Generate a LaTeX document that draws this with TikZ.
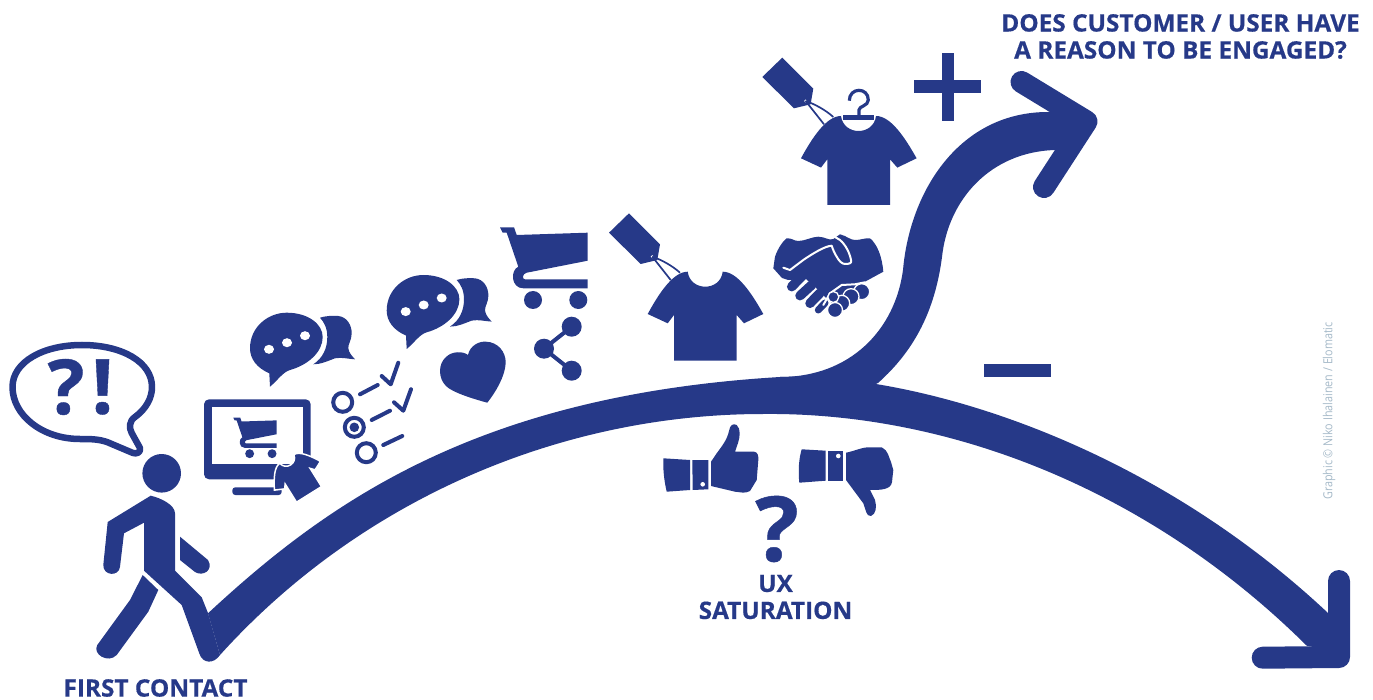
\documentclass[tikz,border=0pt]{standalone}
\usepackage{fontspec}
\newfontfamily\labelfont[FakeStretch=1.015, BoldFeatures={FakeBold=0.5}]{Open Sans}
\newfontfamily\creditfont[FakeStretch=0.86]{Open Sans}
\definecolor{uxblue}{RGB}{38,57,136}
\definecolor{creditgray}{RGB}{165,185,200}
\tikzset{
  uxlabel/.style={text=uxblue, inner sep=0pt, align=center,
                  font=\labelfont\bfseries\fontsize{24}{27}\selectfont},
  bigmark/.style={text=uxblue, inner sep=0pt,
                  font=\labelfont\bfseries\fontsize{76}{76}\selectfont},
  solid part/.style={fill=uxblue, draw=none},
  thin line/.style={draw=uxblue, line width=4pt, line cap=round, line join=round},
  cut line/.style={draw=white, line width=2pt, line cap=round, line join=round},
  finger/.style={draw=uxblue, line cap=round},
  cart/.pic={
    \fill[solid part] (0,0) -- (14,0) -- (16.7,7.7) -- (87.7,5.4) -- (87.7,33.4) -- (26.7,45.4)
      .. controls (22,46.5) and (22,52) .. (25,52) -- (87.7,52) -- (87.7,61) -- (23.3,61)
      .. controls (11,61) and (10,43) .. (18.3,39.4) -- (6.7,5.4) -- (2.7,5.4) -- cycle;
    \fill[solid part] (33,72.7) circle (9) (78.3,72.7) circle (9);
  },
  shirt/.pic={
    \path[solid part, pic actions] (-17.6,-89) .. controls (-15,-69) and (15,-69) .. (17.4,-89)
      .. controls (32,-89) and (46,-68) .. (58,-46.7) -- (38.7,-37.4) -- (31.4,-45.7) -- (31.4,0)
      -- (-31.3,0) -- (-31.3,-45.7) -- (-37.6,-37.4) -- (-57.6,-46.7)
      .. controls (-46,-68) and (-32,-89) .. cycle;
  },
  pricetag/.pic={
    \fill[solid part] (-76.3,-147.4) -- (-45.3,-116.4) -- (-48,-100.7) -- (-64.6,-96.7) -- (-96.3,-128) -- cycle;
    \fill[white] (-53,-104) circle (1.6);
    \draw[uxblue, line width=1.7pt] (-53,-104) .. controls (-44,-101) and (-33,-95) .. (-25.3,-88);
    \draw[uxblue, line width=1.7pt] (-53,-104) -- (-34.6,-80.7);
  },
  chat/.pic={
    \fill[solid part] (20,74.7) -- (19.3,61.3) .. controls (7,56) and (0,47) .. (0,36.3)
      .. controls (0,15) and (18,0.7) .. (36.7,0.7) .. controls (58,0.7) and (72.7,12) .. (72.7,25)
      .. controls (72.7,40) and (58,53) .. (40,58) .. controls (33,60) and (28,68) .. cycle;
    \fill[solid part] (70,5.7) .. controls (75,4) and (82,3.5) .. (88.3,4)
      .. controls (97,5) and (101.7,13) .. (101.7,21.3) .. controls (101.7,28) and (98,32) .. (98.3,36.3)
      .. controls (99,41) and (102,44) .. (105,47.3) .. controls (98,47) and (92,45) .. (85,46.3)
      .. controls (78,49) and (70,52.5) .. (63.3,52.3)
      .. controls (73,46) and (77.3,36) .. (77.3,25) .. controls (77.3,16) and (74,10) .. cycle;
    \foreach \dotx/\doty in {19/37.3, 37/30.7, 55/23.7}
      \fill[white] (\dotx,\doty) ellipse (5 and 4.5);
  }
}

\begin{document}
\begin{tikzpicture}[x=1pt, y=-1pt]
  \useasboundingbox (0,0) rectangle (1373,700);

  % main curve
  \fill[solid part] (208,613.3) .. controls (330,500) and (480,395) .. (780,377)
    .. controls (900,372) and (1135,432) .. (1328,613) -- (1340,650) -- (1307,646)
    .. controls (1150,490) and (950,412) .. (763,414)
    .. controls (560,414) and (360,500) .. (220,655) -- cycle;
  \fill[solid part] (780,377) .. controls (850,377) and (895,330) .. (903,270)
    .. controls (910,190) and (960,112) .. (1048,112) -- (1075,112) -- (1075,148) -- (1055,150)
    .. controls (990,152) and (948,200) .. (942,257)
    .. controls (935,310) and (915,350) .. (878,383) -- (840,400) -- cycle;
  % arrow heads
  \draw[uxblue, line width=22pt, line cap=round, line join=round] (1021.5,82) -- (1086.5,121.5) -- (1044,187);
  \draw[uxblue, line width=22pt, line cap=round, line join=round] (1262.7,657.7) -- (1339,657) -- (1339,581);

  % walker
  \fill[solid part] (161.7,473.3) circle (19.3);
  \fill[solid part] (150.7,495.7) .. controls (161,498) and (175,505) .. (175,513.3) -- (175,570.7) -- (201.7,597.3)
    -- (208,613) -- (220,655) .. controls (214,664) and (203,664) .. (199.5,654) -- (181.7,605) -- (144,570.7)
    -- (144,522.7) -- (124,533.3) -- (120,566.7) .. controls (119,577) and (103,576) .. (103.3,565) -- (107.7,522) -- cycle;
  \fill[solid part] (180,536.7) -- (208,560) .. controls (214,570) and (203,577) .. (195,572) -- (180,560) -- cycle;
  \fill[solid part] (142.7,575) -- (158.3,590) -- (148.3,611.7) -- (116.7,655)
    .. controls (108,664) and (92,654) .. (97.3,645) -- (130,600) -- cycle;

  % speech bubble
  \draw[uxblue, line width=6.5pt, line join=round] (12.5,387) .. controls (12.5,362) and (43,345) .. (82,345)
    .. controls (122,345) and (152,362) .. (152,387) .. controls (152,398) and (146,409) .. (135,417)
    .. controls (129,421) and (129,428) .. (131.7,433) -- (140,448) .. controls (141,453) and (136,454) .. (133,453)
    -- (107,442) .. controls (98,439) and (90,439) .. (80,439) .. controls (42,439) and (12.5,415) .. (12.5,387) -- cycle;
  \node[bigmark] (askmark) at (66,387) {?};
  \node[bigmark] (bangmark) at (102.5,387) {!};

  % monitor
  \fill[solid part, rounded corners=5pt] (204,399.3) rectangle (310.7,479.3);
  \fill[white] (211.7,406.7) rectangle (303.3,464);
  \fill[solid part, rounded corners=3pt] (232.3,487.3) rectangle (281.7,495);
  \pic[scale=0.495] at (233.3,417.7) {cart};
  \pic[scale=0.47, rotate=32, draw=white, line width=1.5pt] at (309,494.4) {shirt};

  \pic at (250,312) {chat};
  \pic at (386.7,274.3) {chat};

  % checklist
  \foreach \ringx/\ringy in {342.7/402.3, 354.3/427.3, 366.3/452.7}
    \draw[uxblue, line width=4pt] (\ringx,\ringy) circle (9.5);
  \fill[solid part] (354.3,427.3) circle (4.8);
  \foreach \ax/\ay/\bx/\by in {360/394.3/377.7/385, 371.7/420/390/410.7, 383.3/445/402.3/436}
    \draw[thin line] (\ax,\ay) -- (\bx,\by);
  \draw[thin line] (381.7,376) -- (390.7,384.3) -- (398.3,362.7);
  \draw[thin line] (394,402.3) -- (403.3,410.7) -- (411,389.3);

  % heart
  \fill[solid part] (487.3,402.7) .. controls (470,398) and (452,392) .. (446,386)
    .. controls (438,378) and (438,364) .. (446,357) .. controls (452,351) and (463,351) .. (468,355)
    .. controls (470,345) and (480,341) .. (486,341.7) .. controls (498,342) and (506,352) .. (505.7,363)
    .. controls (505,377) and (495,393) .. (487.3,402.7) -- cycle;

  \pic at (500,227.3) {cart};

  % share
  \coordinate (sharetop) at (571.7,326.7);
  \coordinate (sharemid) at (544,348.7);
  \coordinate (sharelow) at (571.7,370.7);
  \draw[thin line] (sharetop) -- (sharemid) -- (sharelow);
  \foreach \a in {sharetop, sharemid, sharelow}
    \fill[solid part] (\a) circle (10);

  % shirts
  \pic at (705.3,360.7) {shirt};
  \pic at (705.3,360.7) {pricetag};
  \pic at (858.6,205) {shirt};
  \pic at (858.6,205) {pricetag};
  \fill[solid part] (843.3,115) rectangle (874.3,120);
  \draw[uxblue, line width=3.2pt] (849.3,100.7) .. controls (849.3,87) and (868.3,87) .. (868.3,100)
    .. controls (868.3,106) and (859,106) .. (859,110) -- (859,116);

  % handshake
  \fill[solid part] (773.3,268.3) -- (775,256.7) .. controls (778,248) and (783,241) .. (786.7,238.3)
    .. controls (792,238) and (794,241) .. (798.3,241) .. controls (805,241) and (812,236.7) .. (818.3,236.7)
    .. controls (825,236.7) and (829,241) .. (833.3,239) -- (840,234.3) .. controls (847,236) and (850,240) .. (855,240)
    .. controls (861,240) and (864,238) .. (870,238.3) .. controls (877,244) and (882,256) .. (883.3,271.7)
    -- (865,281.7) -- (850,292) -- (832,303) -- (824,296) -- (815,287) -- (806,279) -- (788,280) -- (782,278) -- cycle;
  \draw[finger, line width=9.5pt] (791.7,286.7) -- (803,275);
  \draw[finger, line width=9.5pt] (800,295.7) -- (811.7,285);
  \draw[finger, line width=9.5pt] (810,303.3) -- (820,293);
  \draw[finger, line width=7pt] (818.3,310) -- (825,303);
  \draw[cut line] (783.3,267.7) -- (790,270) -- (803.3,260) .. controls (812,254) and (825,246) .. (831.7,245.7)
    .. controls (833,250) and (835,254) .. (836.7,256.7) .. controls (839,261) and (842,264) .. (845,264)
    .. controls (850,264) and (852,263) .. (851,260) .. controls (850,254) and (846,245) .. (840,240) -- (833.3,236);
  \draw[cut line] (823.3,305) -- (830,293.3) -- (841.7,285) -- (855,284.3) -- (865,282.3);
  \foreach \fingerx/\fingery/\fingerr in {861.7/291.7/8, 851/296.7/8, 841.7/303.3/8, 835/310/7.5, 833.3/297/5.5}
    \draw[white, line width=1.3pt, fill=uxblue] (\fingerx,\fingery) circle (\fingerr);

  % plus and minus
  \fill[solid part] (941.7,52.7) rectangle (954.3,121.3);
  \fill[solid part] (914.3,80.3) rectangle (981.3,92.7);
  \fill[solid part] (984,364.3) rectangle (1051,376.7);

  % thumb up
  \fill[solid part] (663.3,458.3) -- (690,460) -- (690,490) -- (666.7,491.7) .. controls (664,480) and (663,470) .. cycle;
  \fill[solid part] (692.3,460) -- (708.3,460) -- (708.3,489.3) -- (692.7,490) -- cycle;
  \fill[white] (702.7,484.3) circle (2.3);
  \fill[solid part] (711,461.7) -- (716.7,453.3) .. controls (722,446) and (727,440) .. (729,431)
    .. controls (730,425) and (733,423) .. (736.7,425) .. controls (741,429) and (740,437) .. (738,443)
    -- (735,451.7) -- (754,451.7) .. controls (758,452) and (758.5,456) .. (758.3,460) -- (756.7,480)
    -- (750,491) .. controls (745,494) and (740,492) .. (735,491.7) -- (711,486) -- cycle;

  % thumb down
  \fill[solid part] (801.7,449.3) -- (825.7,450.7) -- (825.7,480.7) -- (799.3,482.7) .. controls (798,470) and (799,458) .. cycle;
  \fill[solid part] (827.7,450.7) -- (843.3,450.7) -- (843.3,480.7) -- (827.7,480.7) -- cycle;
  \fill[white] (838.3,456) circle (2.3);
  \fill[solid part] (846,452.7) .. controls (855,451) and (862,447) .. (870,447.3) -- (882,447.5)
    .. controls (888,450) and (889,458) .. (891,462) -- (893.3,470) -- (892,482) .. controls (891,490) and (880,490) .. (870,490)
    -- (875,500) .. controls (877,507) and (876,514) .. (871,516) .. controls (866,516.5) and (866,510) .. (863.3,503.3)
    -- (846,480) -- cycle;

  % texts
  \node[bigmark, font=\labelfont\bfseries\fontsize{90}{90}\selectfont] (uxmark) at (777,529) {?};
  \node[uxlabel] (uxtext) at (775.5,597) {UX\\SATURATION};
  \node[uxlabel] (firsttext) at (155.5,688) {FIRST CONTACT};
  \node[uxlabel] (engagedtext) at (1180.5,36.5) {DOES CUSTOMER / USER HAVE\\A REASON TO BE ENGAGED?};
  \node[text=creditgray, inner sep=0pt, rotate=90, font=\creditfont\fontsize{12.5}{14}\selectfont] (credittext) at (1329,411) {Graphic © Niko Ihalainen / Elomatic};
\end{tikzpicture}
\end{document}
